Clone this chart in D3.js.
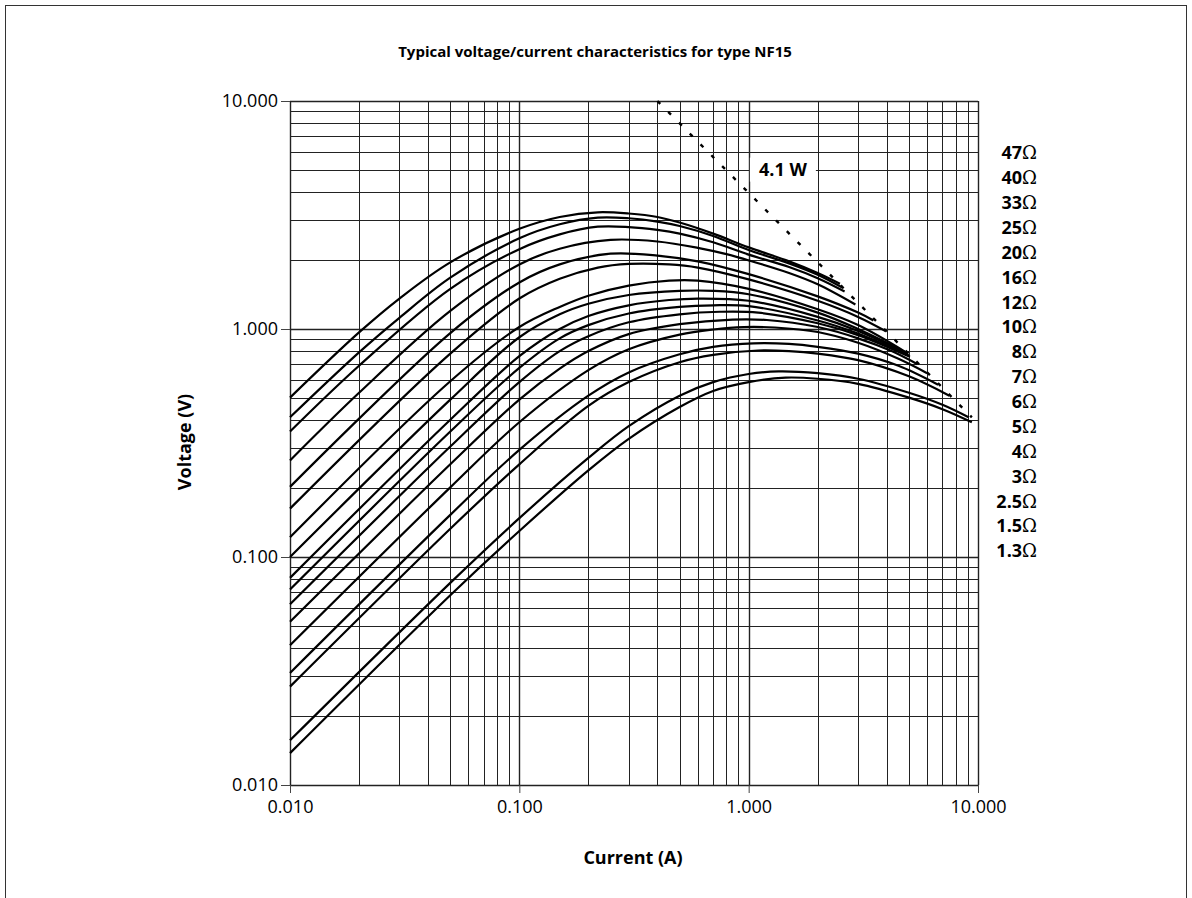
<!DOCTYPE html>
<html>
<head>
<meta charset="utf-8">
<script src="https://cdn.jsdelivr.net/npm/d3@7"></script>
<style>
  body { margin: 0; background: #fff; }
  svg { display: block; font-family: "Open Sans", sans-serif; }
</style>
</head>
<body>
<div id="chart"></div>
<script>
// axis decades
const decadeTicks = [0.01, 0.1, 1, 10];

// resistance labels down the right side
const resistanceLabels = ["47", "40", "33", "25", "20", "16", "12", "10", "8", "7", "6", "5", "4", "3", "2.5", "1.5", "1.3"];

// curves, [current A, voltage V]
const r47 = [[0.01,0.50],[0.02,0.966],[0.03,1.36],[0.05,1.96],[0.1,2.75],[0.15,3.1],[0.22,3.25],[0.3,3.21],[0.4,3.1],[0.5,2.93],[0.7,2.62],[1,2.28],[1.5,1.98],[2,1.76],[2.5,1.58]];
const r40 = [[0.01,0.41],[0.02,0.79],[0.03,1.12],[0.05,1.68],[0.1,2.5],[0.15,2.88],[0.22,3.08],[0.3,3.06],[0.4,2.96],[0.5,2.83],[0.7,2.56],[1,2.22],[1.5,1.94],[2,1.73],[2.56,1.52]];
const r33 = [[0.01,0.355],[0.02,0.69],[0.05,1.5],[0.1,2.24],[0.15,2.6],[0.22,2.81],[0.3,2.8],[0.4,2.72],[0.5,2.62],[0.7,2.4],[1,2.12],[1.5,1.87],[2,1.67],[2.62,1.46]];
const r25 = [[0.01,0.265],[0.02,0.525],[0.05,1.2],[0.1,1.92],[0.15,2.25],[0.25,2.46],[0.4,2.42],[0.6,2.27],[0.8,2.13],[1,2.0],[1.5,1.76],[2,1.57],[2.92,1.28]];
const r20 = [[0.01,0.203],[0.05,0.96],[0.1,1.6],[0.15,1.92],[0.25,2.14],[0.4,2.1],[0.6,1.98],[1,1.74],[2,1.39],[3,1.18],[3.5,1.09]];
const r16 = [[0.01,0.163],[0.05,0.78],[0.1,1.36],[0.15,1.66],[0.22,1.86],[0.3,1.93],[0.45,1.92],[0.6,1.86],[1,1.65],[2,1.33],[3,1.13],[3.95,0.98]];
const r12 = [[0.01,0.122],[0.05,0.59],[0.1,1.02],[0.15,1.25],[0.2,1.4],[0.3,1.55],[0.45,1.63],[0.6,1.63],[1,1.5],[2,1.22],[3,1.04],[4.85,0.79]];
const r10 = [[0.01,0.1],[0.05,0.49],[0.1,0.92],[0.15,1.16],[0.2,1.29],[0.3,1.41],[0.5,1.47],[0.7,1.47],[1,1.42],[2,1.18],[3,1.0],[4.9,0.785]];
const r8 = [[0.01,0.081],[0.05,0.40],[0.1,0.76],[0.15,1.0],[0.2,1.14],[0.3,1.27],[0.45,1.34],[0.6,1.36],[1,1.33],[2,1.13],[3,0.98],[4.95,0.775]];
const r7 = [[0.01,0.072],[0.05,0.355],[0.1,0.675],[0.15,0.91],[0.2,1.04],[0.3,1.17],[0.5,1.25],[0.7,1.27],[1,1.26],[2,1.09],[3,0.955],[5.0,0.765]];
const r6 = [[0.01,0.062],[0.05,0.305],[0.1,0.585],[0.15,0.8],[0.2,0.93],[0.3,1.07],[0.5,1.16],[0.75,1.19],[1.1,1.18],[2,1.06],[3,0.94],[5.05,0.755]];
const r5 = [[0.01,0.052],[0.05,0.255],[0.1,0.49],[0.15,0.67],[0.2,0.8],[0.3,0.95],[0.5,1.05],[0.85,1.1],[1.2,1.095],[2,1.02],[3,0.91],[4.2,0.8],[5.45,0.70]];
const r4 = [[0.01,0.041],[0.05,0.202],[0.1,0.39],[0.2,0.66],[0.3,0.815],[0.5,0.945],[0.7,0.995],[0.95,1.02],[1.3,1.015],[2,0.97],[3,0.87],[4.5,0.74],[6.0,0.64]];
const r3 = [[0.01,0.031],[0.05,0.153],[0.1,0.295],[0.2,0.51],[0.3,0.645],[0.5,0.775],[0.7,0.835],[1.05,0.865],[1.5,0.86],[2,0.835],[3,0.78],[4.5,0.69],[6.7,0.57]];
const r25b = [[0.01,0.027],[0.05,0.133],[0.1,0.255],[0.2,0.46],[0.3,0.585],[0.5,0.715],[0.7,0.77],[1.1,0.805],[1.5,0.8],[2,0.78],[3,0.73],[5,0.62],[7.5,0.51]];
const r15 = [[0.01,0.0157],[0.05,0.077],[0.1,0.148],[0.2,0.272],[0.3,0.375],[0.5,0.51],[0.7,0.585],[1.0,0.635],[1.35,0.652],[2,0.64],[3,0.605],[5,0.525],[7,0.465],[9.1,0.41]];
const r13 = [[0.01,0.0138],[0.05,0.068],[0.1,0.13],[0.2,0.24],[0.3,0.33],[0.5,0.455],[0.7,0.535],[1.0,0.585],[1.45,0.612],[2,0.605],[3,0.575],[5,0.5],[7,0.445],[9.4,0.39]];

const curves = [r47, r40, r33, r25, r20, r16, r12, r10, r8, r7, r6, r5, r4, r3, r25b, r15, r13];

// 4.1 W power limit line
const powerLine = [[0.40, 10], [9.4, 0.41]];
const powerLabel = "4.1 W";
const powerLabelAt = [1.41, 5];

// chart box
const margin = {top: 101, right: 214, bottom: 113, left: 290},
    width = 1192 - margin.left - margin.right,
    height = 898 - margin.top - margin.bottom;

const svg = d3.select("#chart")
  .append("svg")
    .attr("width", 1192)
    .attr("height", 898);

// outer frame
svg.append("rect")
  .attr("x", 5.5).attr("y", 5.5)
  .attr("width", 1181).attr("height", 920)
  .attr("fill", "none")
  .attr("stroke", "#333");

svg.append("text")
  .attr("x", 595).attr("y", 57)
  .attr("text-anchor", "middle")
  .style("font-size", "15px").style("font-weight", "bold")
  .text("Typical voltage/current characteristics for type NF15");

const g = svg.append("g")
  .attr("transform", "translate(" + margin.left + "," + margin.top + ")");

const x = d3.scaleLog().domain([0.01, 10]).range([0, width]);
const y = d3.scaleLog().domain([0.01, 10]).range([height, 0]);

// grid
g.append("g")
  .selectAll("line")
  .data(x.ticks())
  .enter()
  .append("line")
    .attr("x1", d => Math.round(x(d)) + 0.5).attr("x2", d => Math.round(x(d)) + 0.5)
    .attr("y1", 0).attr("y2", height)
    .attr("stroke", "#222")
    .attr("stroke-width", d => decadeTicks.includes(d) ? 1.4 : 1);

g.append("g")
  .selectAll("line")
  .data(y.ticks())
  .enter()
  .append("line")
    .attr("y1", d => Math.round(y(d)) + 0.5).attr("y2", d => Math.round(y(d)) + 0.5)
    .attr("x1", 0).attr("x2", width)
    .attr("stroke", "#222")
    .attr("stroke-width", d => decadeTicks.includes(d) ? 1.4 : 1);

// axes
const xAxis = g.append("g")
  .attr("transform", "translate(0," + height + ")")
  .call(d3.axisBottom(x).tickValues(decadeTicks).tickFormat(d3.format(".3f")).tickSize(8).tickPadding(7));

const yAxis = g.append("g")
  .call(d3.axisLeft(y).tickValues(decadeTicks).tickFormat(d3.format(".3f")).tickSize(9).tickPadding(3));

[xAxis, yAxis].forEach(a => {
  a.select(".domain").remove();
  a.selectAll("line").attr("stroke", "#444");
  a.selectAll("text")
    .attr("fill", "#000")
    .style("font-family", "Open Sans, sans-serif")
    .style("font-size", "18px");
});

g.append("text")
  .attr("x", width / 2 - 1).attr("y", height + 79)
  .attr("text-anchor", "middle")
  .style("font-size", "18px").style("font-weight", "bold")
  .text("Current (A)");

g.append("text")
  .attr("transform", "translate(-99," + (height / 2 - 1) + ")rotate(-90)")
  .attr("text-anchor", "middle")
  .style("font-size", "18px").style("font-weight", "bold")
  .text("Voltage (V)");

// curves
const line = d3.line()
  .x(d => x(d[0]))
  .y(d => y(d[1]))
  .curve(d3.curveCatmullRom.alpha(0.5));

g.append("g")
  .selectAll("path")
  .data(curves)
  .enter()
  .append("path")
    .attr("d", line)
    .attr("fill", "none")
    .attr("stroke", "#000")
    .attr("stroke-width", 2.2);

// power limit
g.append("path")
  .attr("d", d3.line().x(d => x(d[0])).y(d => y(d[1]))(powerLine))
  .attr("fill", "none")
  .attr("stroke", "#000")
  .attr("stroke-width", 2.4)
  .attr("stroke-dasharray", "4,11.3");

const pl = g.append("g")
  .attr("transform", "translate(" + x(powerLabelAt[0]) + "," + y(powerLabelAt[1]) + ")");
pl.append("rect")
  .attr("x", -33).attr("y", -12)
  .attr("width", 66).attr("height", 24)
  .attr("fill", "#fff");
pl.append("text")
  .attr("text-anchor", "middle")
  .attr("dy", "0.35em")
  .style("font-size", "18px").style("font-weight", "bold")
  .text(powerLabel);

// resistance labels
const ly = d3.scalePoint().domain(resistanceLabels).range([153, 551]);

const labels = svg.append("g")
  .selectAll("text")
  .data(resistanceLabels)
  .enter()
  .append("text")
    .attr("x", 1037)
    .attr("y", d => ly(d))
    .attr("dy", "0.35em")
    .attr("text-anchor", "end")
    .style("font-size", "18px").style("font-weight", "bold");

labels.append("tspan").text(d => d);
labels.append("tspan").style("font-weight", "normal").style("font-family", "DejaVu Serif, serif").text("Ω");
</script>
</body>
</html>
